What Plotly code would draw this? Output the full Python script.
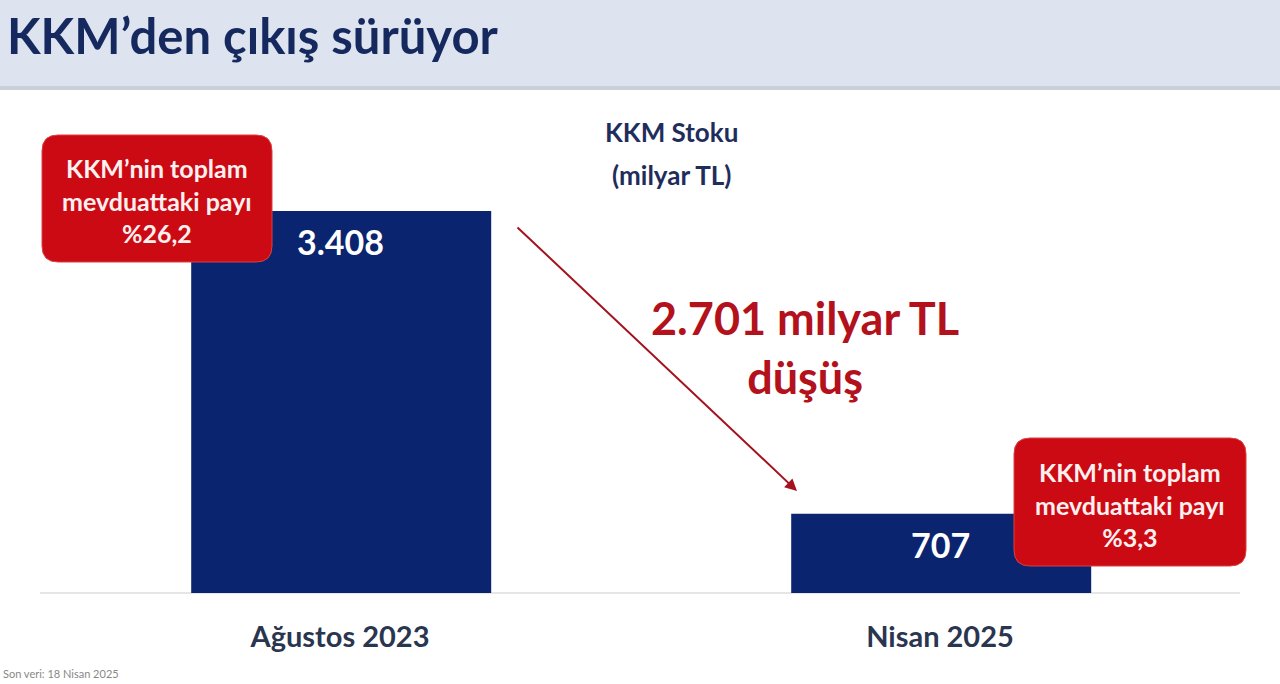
import plotly.graph_objects as go

categories = ["Ağustos 2023", "Nisan 2025"]
stock_values = [3408, 707]
share_labels = ["%26,2", "%3,3"]
decline_value = 2701

title_text = "KKM’den çıkış sürüyor"
series_title = ["KKM Stoku", "(milyar TL)"]
callout_head = "KKM’nin toplam<br>mevduattaki payı<br>"
footer = "Son veri: 18 Nisan 2025"

W, H = 1280, 684
L, R, T, B = 40, 40, 130, 91
PW, PH = W - L - R, H - T - B

def px(x):
    return (x - L) / PW

def py(y):
    return (H - B - y) / PH

def fmt(v):
    return f"{v:,}".replace(",", ".")

FONT = "Lato"
NAVY = "#0b2470"
RED = "#cc0a14"

fig = go.Figure()
fig.add_trace(go.Bar(
    x=categories, y=stock_values, width=0.5, offset=-0.248,
    marker=dict(color=NAVY, line=dict(width=0)),
    hoverinfo="skip",
))

shapes = []
annotations = []

# Title band
shapes.append(dict(type="rect", xref="paper", yref="paper", x0=px(0), x1=px(W),
                   y0=py(86), y1=py(0), fillcolor="#dde4ef", line=dict(width=0), layer="below"))
shapes.append(dict(type="rect", xref="paper", yref="paper", x0=px(0), x1=px(W),
                   y0=py(90), y1=py(86), fillcolor="#c9cfdb", line=dict(width=0), layer="below"))
# baseline
shapes.append(dict(type="line", xref="paper", yref="paper", x0=0, x1=1, y0=0, y1=0,
                   line=dict(color="#e6e6e6", width=2), layer="below"))

annotations.append(dict(text="<b>" + title_text + "</b>", xref="paper", yref="paper",
                        x=px(5), y=py(35), xanchor="left", yanchor="middle", showarrow=False,
                        font=dict(family=FONT, size=49, color="#16295e")))
for line_text, yy in zip(series_title, [132, 175]):
    annotations.append(dict(text="<b>" + line_text + "</b>", xref="paper", yref="paper",
                            x=px(671), y=py(yy), xanchor="center", yanchor="middle", showarrow=False,
                            font=dict(family=FONT, size=26, color="#1f2d5c")))

# value labels
for c, v in zip(categories, stock_values):
    annotations.append(dict(text="<b>" + fmt(v) + "</b>", x=c, y=v, xref="x", yref="y",
                            yshift=-31, showarrow=False, yanchor="middle",
                            font=dict(family=FONT, size=34, color="white")))

# callout boxes
def rounded(x0, y0, x1, y1, r):
    X0, X1 = px(x0), px(x1)
    Y0, Y1 = py(y0), py(y1)
    rx, ry = r / PW, r / PH
    return (f"M {X0+rx} {Y0} L {X1-rx} {Y0} Q {X1} {Y0} {X1} {Y0-ry} "
            f"L {X1} {Y1+ry} Q {X1} {Y1} {X1-rx} {Y1} L {X0+rx} {Y1} "
            f"Q {X0} {Y1} {X0} {Y1+ry} L {X0} {Y0-ry} Q {X0} {Y0} {X0+rx} {Y0} Z")

boxes = [(42, 135, 272, 262), (1014, 438, 1246, 566)]
for (x0, y0, x1, y1), lab in zip(boxes, share_labels):
    shapes.append(dict(type="path", xref="paper", yref="paper", path=rounded(x0, y0, x1, y1, 16),
                       fillcolor=RED, line=dict(color="#d94040", width=1), layer="above"))
    annotations.append(dict(text="<b>" + callout_head + lab + "</b>", xref="paper", yref="paper",
                            x=px((x0 + x1) / 2), y=py((y0 + y1) / 2 + 2), xanchor="center",
                            yanchor="middle", showarrow=False,
                            font=dict(family=FONT, size=25, color="#fff0f0")))

# arrow
annotations.append(dict(text="", xref="paper", yref="paper", x=px(797), y=py(491),
                        ax=516 - 797, ay=226 - 491, axref="pixel", ayref="pixel",
                        showarrow=True, arrowhead=2, arrowsize=1.2, arrowwidth=2,
                        arrowcolor="#a3121e"))
annotations.append(dict(text="<b>" + fmt(decline_value) + " milyar TL<br>düşüş</b>",
                        xref="paper", yref="paper", x=px(805), y=py(347),
                        xanchor="center", yanchor="middle", showarrow=False,
                        font=dict(family=FONT, size=45, color="#b3111c")))

annotations.append(dict(text=footer, xref="paper", yref="paper", x=px(1), y=py(673),
                        xanchor="left", yanchor="middle", showarrow=False,
                        font=dict(family=FONT, size=11, color="#888888")))

fig.update_layout(
    width=W, height=H,
    margin=dict(l=L, r=R, t=T, b=B),
    paper_bgcolor="white", plot_bgcolor="white",
    showlegend=False,
    shapes=shapes, annotations=annotations,
    xaxis=dict(range=[-0.5, 1.5], showgrid=False, zeroline=False, showline=False,
               ticks="", ticklabelstandoff=24,
               tickfont=dict(family=FONT, size=29, color="#2a3550", weight=700)),
    yaxis=dict(range=[0, 4130], showgrid=False, zeroline=False, showline=False,
               showticklabels=False, ticks=""),
)

fig.write_html("out.html", config={"displayModeBar": False},
               post_script="document.body.style.margin='0';document.body.style.overflow='hidden';")
